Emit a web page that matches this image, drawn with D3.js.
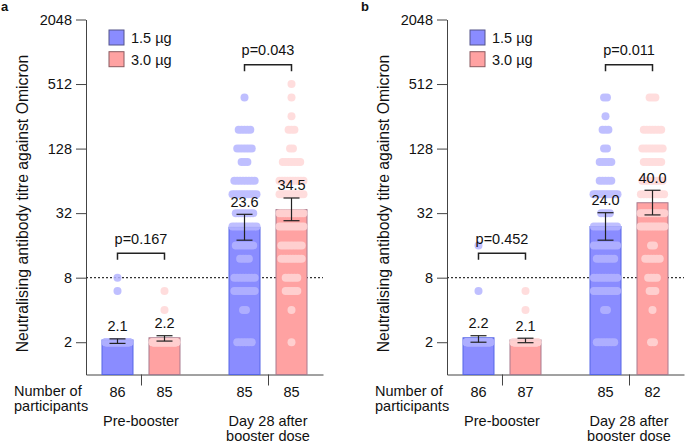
<!DOCTYPE html>
<html><head><meta charset="utf-8">
<script src="https://cdn.jsdelivr.net/npm/d3@7"></script>
<style>
body{margin:0;background:#fff;}
svg{display:block;font-family:"Liberation Sans",Arial,Helvetica,sans-serif;}
</style></head>
<body><svg id="chart" width="685" height="443"></svg>
<script>
// ---- data ----
const groups = ["Pre-booster", "Day 28 after booster dose"];
const doses = ["1.5 µg", "3.0 µg"];
const yTicks = [2, 8, 32, 128, 512, 2048];
const titreLevels = [2, 4, 6, 8, 12, 16, 24, 32, 48, 64, 96, 128, 192, 256, 384, 512];

// panel a
const gmtA = [2.1, 2.2, 23.6, 34.5];
const ciLowA = [1.95, 2.05, 17.9, 27.2];
const ciHighA = [2.15, 2.3, 31.2, 44.3];
const nA = [86, 85, 85, 85];
const pA = ["p=0.167", "p=0.043"];
const countsA = [
  [84, 0, 1, 1, 0, 0, 0, 0, 0, 0, 0, 0, 0, 0, 0, 0],
  [83, 1, 1, 0, 0, 0, 0, 0, 0, 0, 0, 0, 0, 0, 0, 0],
  [6, 2, 8, 8, 4, 7, 10, 7, 10, 8, 3, 6, 5, 0, 1, 0],
  [1, 1, 5, 5, 8, 8, 10, 11, 11, 10, 7, 2, 3, 1, 1, 1]
];
// panel b
const gmtB = [2.2, 2.1, 24.0, 40.0];
const ciLowB = [2.0, 1.98, 17.9, 30.8];
const ciHighB = [2.3, 2.18, 32.3, 52.3];
const nB = [86, 87, 85, 82];
const pB = ["p=0.452", "p=0.011"];
const countsB = [
  [84, 0, 1, 0, 0, 1, 0, 0, 0, 0, 0, 0, 0, 0, 0, 0],
  [85, 1, 1, 0, 0, 0, 0, 0, 0, 0, 0, 0, 0, 0, 0, 0],
  [7, 2, 9, 9, 7, 9, 9, 4, 11, 5, 5, 2, 3, 1, 2, 0],
  [2, 1, 3, 4, 6, 2, 11, 11, 9, 8, 7, 8, 7, 0, 3, 0]
];
const bracketLevels = [13.5, 776]; // titre level of the comparison brackets
const threshold = 8;

// ---- style ----
const fills = ["#8a8cff", "#ffa2a2"];
const strokes = ["#5566e6", "#a87a8e"];
const dotFills = ["#b5b5ff", "#ffd8d8"];
const legendStrokes = ["#55558a", "#8a5a60"];
const FS = 14.5;

const svg = d3.select("#chart");
const y = d3.scaleLog().base(2).domain([1, 2048]).range([374.5, 19.5]);
const axisLen = 237;
const xGroup = d3.scalePoint().domain(groups).range([0, axisLen]).padding(0.433);
const xDose = d3.scalePoint().domain(doses).range([-23.5, 23.5]);
const barW = 31, dotR = 4, dotStep = 2.9, rowMax = 32, capW = 16;

const panels = [
  {x0: 86, tag: "a", gmt: gmtA, lo: ciLowA, hi: ciHighA, n: nA, p: pA, counts: countsA},
  {x0: 447, tag: "b", gmt: gmtB, lo: ciLowB, hi: ciHighB, n: nB, p: pB, counts: countsB}
];

panels.forEach(P => {
  const g = svg.append("g").attr("transform", `translate(${P.x0},0)`);
  const bars = [];
  groups.forEach((gr, gi) => doses.forEach((d, di) => {
    const k = gi * 2 + di;
    bars.push({k, gi, di, cx: xGroup(gr) + xDose(d), gmt: P.gmt[k], lo: P.lo[k], hi: P.hi[k], n: P.n[k], counts: P.counts[k]});
  }));

  // y axis
  const ya = g.append("g").call(d3.axisLeft(y).tickValues(yTicks).tickFormat(d3.format("d")).tickSize(10).tickPadding(4).tickSizeOuter(0));
  ya.select(".domain").attr("stroke", "#444");
  ya.selectAll(".tick line").attr("stroke", "#444");
  ya.selectAll(".tick text").attr("font-size", FS).attr("fill", "#111").style("font-family", "inherit");

  // x axis
  const xa = g.append("g").attr("transform", `translate(0,${y(1)})`)
    .call(d3.axisBottom(xGroup).tickSize(11).tickSizeOuter(0).tickFormat(""));
  xa.select(".domain").attr("stroke", "#444");
  xa.selectAll(".tick line").attr("stroke", "#444");

  // threshold
  g.append("line").attr("x1", 0).attr("x2", axisLen).attr("y1", y(threshold)).attr("y2", y(threshold))
    .attr("stroke", "#333").attr("stroke-width", 1.2).attr("stroke-dasharray", "2,2");

  // bars
  g.selectAll("rect.bar").data(bars).join("rect").attr("class", "bar")
    .attr("x", b => b.cx - barW / 2).attr("width", barW)
    .attr("y", b => y(b.gmt)).attr("height", b => y(1) - y(b.gmt))
    .attr("fill", b => fills[b.di]).attr("stroke", b => strokes[b.di]).attr("stroke-width", 1);

  // dots
  bars.forEach(b => {
    const dg = g.append("g").attr("opacity", 0.85);
    b.counts.forEach((c, li) => {
      if (!c) return;
      const s = c > 1 ? Math.min(dotStep, (rowMax - 2 * dotR) / (c - 1)) : 0;
      const pts = d3.range(c).map(i => (i - (c - 1) / 2) * s);
      dg.selectAll(null).data(pts).join("circle")
        .attr("cx", o => b.cx + o).attr("cy", y(titreLevels[li])).attr("r", dotR)
        .attr("fill", dotFills[b.di]);
    });
  });

  // error bars
  bars.forEach(b => {
    const eg = g.append("g").attr("stroke", "#222").attr("stroke-width", 1.2);
    eg.append("line").attr("x1", b.cx).attr("x2", b.cx).attr("y1", y(b.lo)).attr("y2", y(b.hi));
    [b.lo, b.hi].forEach(v => eg.append("line").attr("x1", b.cx - capW / 2).attr("x2", b.cx + capW / 2).attr("y1", y(v)).attr("y2", y(v)));
    g.append("text").attr("x", b.cx).attr("y", y(b.hi) - 7.5).attr("text-anchor", "middle")
      .attr("font-size", FS).attr("fill", "#111").text(b.gmt.toFixed(1));
    g.append("text").attr("x", b.cx).attr("y", 396.7).attr("text-anchor", "middle")
      .attr("font-size", FS).attr("fill", "#111").text(b.n);
  });

  // brackets
  groups.forEach((gr, gi) => {
    const xl = xGroup(gr) + xDose(doses[0]), xr = xGroup(gr) + xDose(doses[1]);
    const by = y(bracketLevels[gi]);
    g.append("path").attr("d", `M${xl},${by + 6.5}V${by}H${xr}V${by + 6.5}`)
      .attr("fill", "none").attr("stroke", "#222").attr("stroke-width", 1.5);
    g.append("text").attr("x", (xl + xr) / 2).attr("y", by - 9.5).attr("text-anchor", "middle")
      .attr("font-size", FS).attr("fill", "#111").text(P.p[gi]);
  });

  // group labels
  const gl = [["Pre-booster"], ["Day 28 after", "booster dose"]];
  groups.forEach((gr, gi) => {
    gl[gi].forEach((t, li) => g.append("text").attr("x", xGroup(gr)).attr("y", 426.2 + li * 14.6)
      .attr("text-anchor", "middle").attr("font-size", FS).attr("fill", "#111").text(t));
  });

  // number of participants
  ["Number of", "participants"].forEach((t, i) => g.append("text").attr("x", -72).attr("y", 395.7 + i * 15.3)
    .attr("font-size", FS).attr("fill", "#111").text(t));

  // y title
  g.append("text").attr("transform", `translate(-58,203.5) rotate(-90)`).attr("text-anchor", "middle")
    .attr("font-size", 15.8).attr("fill", "#111").text("Neutralising antibody titre against Omicron");

  // legend
  doses.forEach((d, di) => {
    g.append("rect").attr("x", 23).attr("y", 30 + di * 21.7).attr("width", 15).attr("height", 15)
      .attr("fill", fills[di]).attr("stroke", legendStrokes[di]).attr("stroke-width", 1);
    g.append("text").attr("x", 45).attr("y", 43 + di * 21.7).attr("font-size", FS).attr("fill", "#111").text(d);
  });

  // panel tag
  g.append("text").attr("x", P.tag === "a" ? -85 : -86).attr("y", 11).attr("font-size", 13).attr("font-weight", "bold")
    .attr("fill", "#111").text(P.tag);
});
</script></body></html>
